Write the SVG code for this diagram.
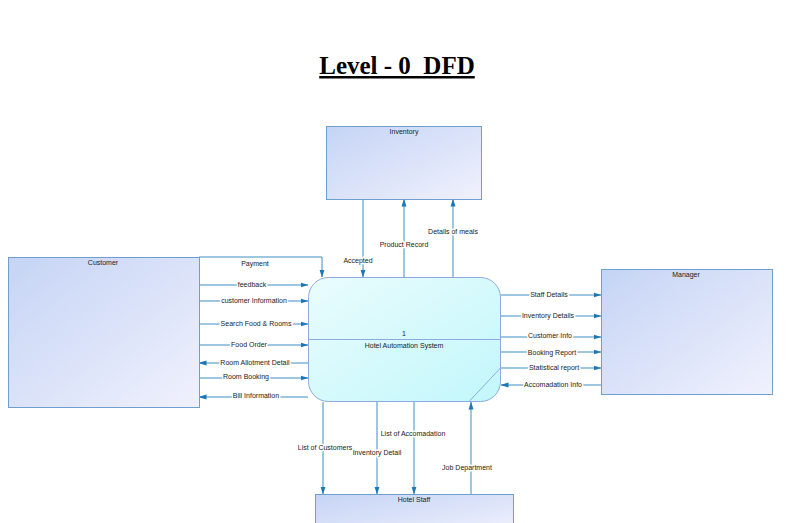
<svg xmlns="http://www.w3.org/2000/svg" width="797" height="523" viewBox="0 0 797 523">
<style>
.ent{stroke:#6f9fd0;stroke-width:1}
.t{font-family:"Liberation Sans",Arial,sans-serif;font-size:7px;fill:#222;text-anchor:middle}
.lbl{font-family:"Liberation Sans",Arial,sans-serif;font-size:7px;fill:#222;text-anchor:middle;stroke:#fff;stroke-width:3px;paint-order:stroke;stroke-linejoin:round}
.c{fill:none;stroke:#3a8fc4;stroke-width:1;marker-end:url(#ah)}
</style>
<defs>
<linearGradient id="ge" x1="0" y1="0" x2="1" y2="1">
<stop offset="0" stop-color="#c5d4f5"/>
<stop offset="1" stop-color="#f0f1fd"/>
</linearGradient>
<linearGradient id="gp" x1="0" y1="0" x2="1" y2="1">
<stop offset="0" stop-color="#eafcfd"/>
<stop offset="1" stop-color="#c2f7fb"/>
</linearGradient>
<marker id="ah" markerWidth="8" markerHeight="6" refX="7.5" refY="3" orient="auto" markerUnits="userSpaceOnUse">
<path d="M0,0.5 L8,3 L0,5.5 Z" fill="#1b78b5"/>
</marker>
</defs>
<rect width="797" height="523" fill="#fff"/>
<g id="title">
<text x="397" y="74" font-family="Liberation Serif,'Times New Roman',serif" font-size="25" font-weight="bold" text-anchor="middle" fill="#000" text-decoration="underline" xml:space="preserve">Level - 0  DFD</text>
</g>
<g id="connectors">
<polyline class="c" points="199,257 322,257 322,277"/>
<text class="lbl" x="255" y="266">Payment</text>
<line class="c" x1="199" y1="285" x2="308" y2="285"/>
<text class="lbl" x="252" y="287">feedback</text>
<line class="c" x1="199" y1="301" x2="308" y2="301"/>
<text class="lbl" x="254" y="303">customer Information</text>
<line class="c" x1="199" y1="324" x2="308" y2="324"/>
<text class="lbl" x="256" y="326">Search Food &amp; Rooms</text>
<line class="c" x1="199" y1="345" x2="308" y2="345"/>
<text class="lbl" x="249" y="347">Food Order</text>
<line class="c" x1="308" y1="363" x2="199" y2="363"/>
<text class="lbl" x="255" y="365">Room Allotment Detail</text>
<line class="c" x1="199" y1="378" x2="308" y2="378"/>
<text class="lbl" x="246" y="379">Room Booking</text>
<line class="c" x1="308" y1="397" x2="199" y2="397"/>
<text class="lbl" x="256" y="398">Bill Information</text>

<line class="c" x1="363" y1="199" x2="363" y2="277"/>
<text class="lbl" x="358" y="263">Accepted</text>
<line class="c" x1="404" y1="277" x2="404" y2="199"/>
<text class="lbl" x="404" y="247">Product Record</text>
<line class="c" x1="453" y1="277" x2="453" y2="199"/>
<text class="lbl" x="453" y="234">Details of meals</text>

<line class="c" x1="501" y1="295" x2="601" y2="295"/>
<text class="lbl" x="549" y="297">Staff Details</text>
<line class="c" x1="501" y1="316" x2="601" y2="316"/>
<text class="lbl" x="548" y="318">Inventory Details</text>
<line class="c" x1="501" y1="337" x2="601" y2="337"/>
<text class="lbl" x="550" y="338">Customer Info</text>
<line class="c" x1="501" y1="352" x2="601" y2="352"/>
<text class="lbl" x="552" y="355">Booking Report</text>
<line class="c" x1="501" y1="368" x2="601" y2="368"/>
<text class="lbl" x="554" y="370">Statistical report</text>
<line class="c" x1="601" y1="385" x2="501" y2="385"/>
<text class="lbl" x="553" y="387">Accomadation Info</text>

<line class="c" x1="323" y1="402" x2="323" y2="494"/>
<text class="lbl" x="325" y="450">List of Customers</text>
<line class="c" x1="377" y1="402" x2="377" y2="494"/>
<text class="lbl" x="377" y="455">Inventory Detail</text>
<line class="c" x1="414" y1="402" x2="414" y2="494"/>
<text class="lbl" x="413" y="436">List of Accomadation</text>
<line class="c" x1="471" y1="494" x2="471" y2="402"/>
<text class="lbl" x="467" y="470">Job Department</text>
</g>
<g id="inventory">
<rect class="ent" x="326.5" y="126.5" width="155" height="73" fill="url(#ge)"/>
<text class="t" x="404" y="134">Inventory</text>
</g>
<g id="customer">
<rect class="ent" x="8.5" y="257.5" width="191" height="150" fill="url(#ge)"/>
<text class="t" x="103" y="265">Customer</text>
</g>
<g id="manager">
<rect class="ent" x="601.5" y="269.5" width="171" height="125" fill="url(#ge)"/>
<text class="t" x="686" y="277">Manager</text>
</g>
<g id="hotel-staff">
<rect class="ent" x="315.5" y="494.5" width="198" height="40" fill="url(#ge)"/>
<text class="t" x="414" y="502">Hotel Staff</text>
</g>
<g id="process">
<rect x="308.5" y="277.5" width="192" height="124" rx="20" ry="20" fill="url(#gp)" stroke="#8eaadf" stroke-width="1"/>
<line x1="308.5" y1="339.5" x2="500.5" y2="339.5" stroke="#8eaadf"/>
<line x1="500.5" y1="368" x2="469" y2="401.5" stroke="#8eaadf"/>
<text class="t" x="404" y="336">1</text>
<text class="t" x="404" y="348">Hotel Automation System</text>
</g>
</svg>
